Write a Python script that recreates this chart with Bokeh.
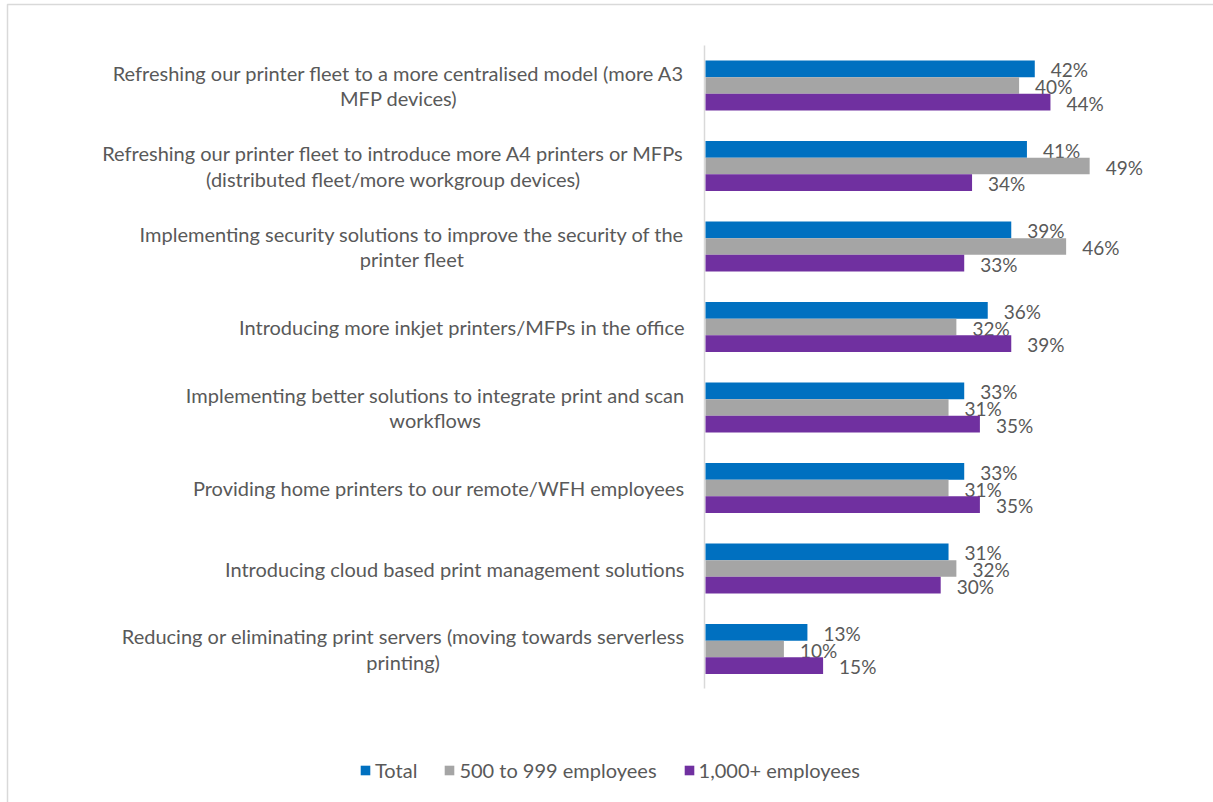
from bokeh.plotting import figure
from bokeh.models import ColumnDataSource, Range1d, Legend, LegendItem
from bokeh.core.properties import value
from bokeh.embed import file_html
from bokeh.resources import INLINE

# --- data -------------------------------------------------------------
categories = [
    "Refreshing our printer fleet to a more centralised model (more A3\nMFP devices)",
    "Refreshing our printer fleet to introduce more A4 printers or MFPs\n(distributed fleet/more workgroup devices)",
    "Implementing security solutions to improve the security of the\nprinter fleet",
    "Introducing more inkjet printers/MFPs in the office",
    "Implementing better solutions to integrate print and scan\nworkflows",
    "Providing home printers to our remote/WFH employees",
    "Introducing cloud based print management solutions",
    "Reducing or eliminating print servers (moving towards serverless\nprinting)",
]
series_names = ["Total", "500 to 999 employees", "1,000+ employees"]
total = [42, 41, 39, 36, 33, 33, 31, 13]
employees_500_999 = [40, 49, 46, 32, 31, 31, 32, 10]
employees_1000_plus = [44, 34, 33, 39, 35, 35, 30, 15]
series_values = [total, employees_500_999, employees_1000_plus]
series_colors = ["#0070C0", "#A5A5A5", "#7030A0"]

# --- layout -----------------------------------------------------------
W, H = 1213, 802
AXIS_PX = 705          # pixel column of the value axis (0 %)
PX_PER_PCT = 7.84      # horizontal pixels per percentage point
FIRST_CENTER = 85      # pixel row of the first category centre
GROUP_STEP = 80.5      # pixels between category centres
BAR_H = 16.6 / GROUP_STEP

FONT = "Lato"
TEXT_COLOR = "#595959"
LINE_COLOR = "#D9D9D9"


def px_to_x(px):
    return (px - AXIS_PX) / PX_PER_PCT


def py_to_y(py):
    return (py - FIRST_CENTER) / GROUP_STEP


p = figure(
    width=W, height=H,
    x_range=Range1d(px_to_x(0), px_to_x(W)),
    y_range=Range1d(py_to_y(H), py_to_y(0)),
    x_axis_type=None, y_axis_type=None,
    output_backend="svg", toolbar_location=None,
    min_border=0, outline_line_color=None,
)
p.grid.visible = False
p.background_fill_color = "white"
p.border_fill_color = "white"

# chart area frame (top and left edges)
p.line(x=[px_to_x(7), px_to_x(7), px_to_x(W + 5)],
       y=[py_to_y(H + 5), py_to_y(4), py_to_y(4)],
       line_color=LINE_COLOR, line_width=1.5)

# category axis line
p.segment(x0=[px_to_x(704)], y0=[py_to_y(45)], x1=[px_to_x(704)], y1=[py_to_y(688)],
          line_color=LINE_COLOR, line_width=1.5)

ys = list(range(len(categories)))
offsets = [-BAR_H, 0.0, BAR_H]
legend_items = []
for name, vals, color, off in zip(series_names, series_values, series_colors, offsets):
    src = ColumnDataSource(dict(
        y=[y + off for y in ys],
        v=vals,
        lbl=[f"{v}%" for v in vals],
    ))
    r = p.hbar(y="y", left=0, right="v", height=BAR_H, source=src,
               fill_color=color, line_color=None)
    p.text(x="v", y="y", text="lbl", source=src, x_offset=16, y_offset=1,
           text_align="left", text_baseline="middle",
           text_font=value(FONT), text_font_size="19px", text_color=TEXT_COLOR)
    legend_items.append(LegendItem(label=name, renderers=[r]))

# category labels, right edge next to the axis, lines centred on each other
cat_src = ColumnDataSource(dict(x=[px_to_x(684)] * len(categories), y=ys, t=categories))
p.text(x="x", y="y", text="t", source=cat_src,
       anchor=value("center_right"), text_align="center", text_baseline="middle",
       text_line_height=1.05,
       text_font=value(FONT), text_font_size="20px", text_color=TEXT_COLOR)

legend = Legend(
    items=legend_items, orientation="horizontal", location=(359, 20),
    glyph_width=12, glyph_height=12, label_standoff=4, spacing=26,
    padding=0, margin=0, border_line_color=None, background_fill_alpha=0,
    label_text_font=FONT, label_text_font_size="20px", label_text_color=TEXT_COLOR,
)
p.add_layout(legend, "center")

open("out.html", "w").write(file_html(p, INLINE))
